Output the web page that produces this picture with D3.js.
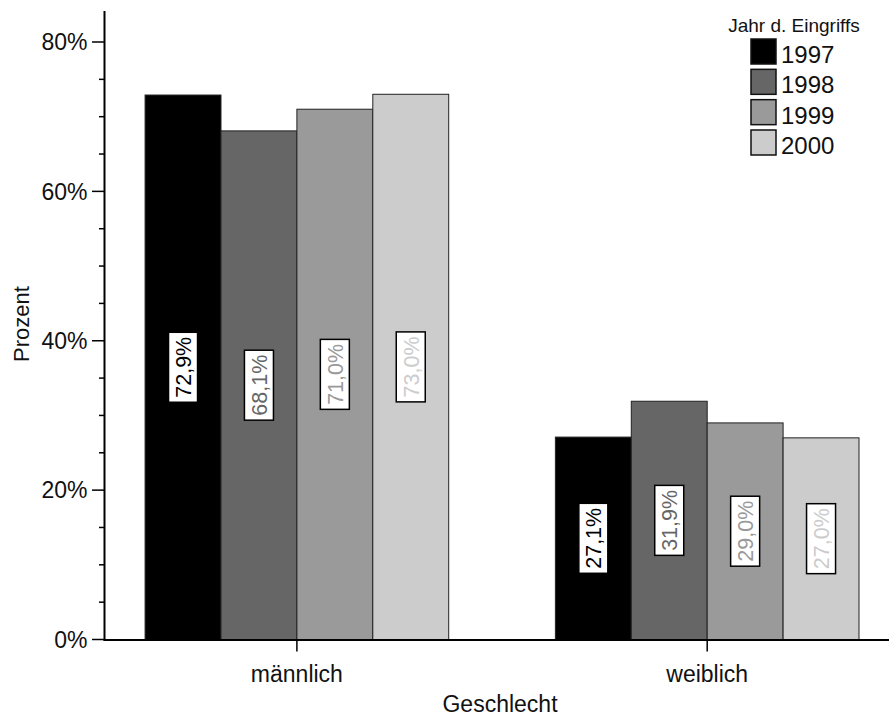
<!DOCTYPE html>
<html>
<head>
<meta charset="utf-8">
<script src="https://cdn.jsdelivr.net/npm/d3@7"></script>
<style>
  html, body { margin: 0; padding: 0; background: #fff; }
  svg { display: block; font-family: "Liberation Sans", Arial, Helvetica, sans-serif; }
</style>
</head>
<body>
<svg id="chart" width="889" height="717"></svg>
<script>
// ---- data ----
const categories = ["männlich", "weiblich"];
const years = ["1997", "1998", "1999", "2000"];
const values1997 = [72.9, 27.1];
const values1998 = [68.1, 31.9];
const values1999 = [71.0, 29.0];
const values2000 = [73.0, 27.0];
const yTicks = [0, 20, 40, 60, 80];
const yMinorTicks = [5, 10, 15, 25, 30, 35, 45, 50, 55, 65, 70, 75];
const colors = ["#000000", "#666666", "#9a9a9a", "#cccccc"];
const xTitle = "Geschlecht";
const yTitle = "Prozent";
const legendTitle = "Jahr d. Eingriffs";

const seriesValues = [values1997, values1998, values1999, values2000];
const rows = [];
categories.forEach((c, ci) => {
  years.forEach((yr, yi) => rows.push({ cat: c, year: yr, yi, value: seriesValues[yi][ci] }));
});

// ---- layout ----
const svg = d3.select("#chart");
const axisX = 104.5, axisBottom = 639.5, axisTopY = 11, plotRight = 889;
const FONT = 23;

const y = d3.scaleLinear().domain([0, 80]).range([axisBottom, 42]);
const x0 = d3.scaleBand().domain(categories).range([axisX, plotRight])
  .paddingInner(0.26).paddingOuter(0.086).align(0.575);
const x1 = d3.scaleBand().domain(years).range([0, x0.bandwidth()]).padding(0);
const color = d3.scaleOrdinal().domain(years).range(colors);
const fmt = v => d3.format(".1f")(v).replace(".", ",") + "%";

// ---- bars ----
const bars = svg.append("g");
bars.selectAll("rect").data(rows).join("rect")
  .attr("x", d => x0(d.cat) + x1(d.year))
  .attr("y", d => y(d.value))
  .attr("width", x1.bandwidth())
  .attr("height", d => y(0) - y(d.value))
  .attr("fill", d => color(d.year))
  .attr("stroke", "#222")
  .attr("stroke-width", 1);

// ---- bar labels ----
const labels = svg.append("g");
rows.forEach(d => {
  const cx = x0(d.cat) + x1(d.year) + x1.bandwidth() / 2;
  const cy = (y(d.value) + y(0)) / 2;
  const g = labels.append("g").attr("transform", `translate(${cx},${cy}) rotate(-90)`);
  const rect = g.append("rect").attr("fill", "#fff").attr("stroke", "#000").attr("stroke-width", 1.5);
  const t = g.append("text")
    .attr("text-anchor", "middle")
    .attr("dy", "0.36em")
    .attr("font-size", 21.5)
    .attr("fill", color(d.year))
    .text(fmt(d.value));
  const bb = t.node().getBBox();
  const w = bb.width + 9, h = 29;
  rect.attr("x", -w / 2).attr("y", -h / 2).attr("width", w).attr("height", h);
});

// ---- y axis ----
const yAxisG = svg.append("g");
yAxisG.append("line")
  .attr("x1", axisX).attr("x2", axisX)
  .attr("y1", axisTopY).attr("y2", axisBottom + 1)
  .attr("stroke", "#000").attr("stroke-width", 2);
yAxisG.selectAll("line.major").data(yTicks).join("line").attr("class", "major")
  .attr("x1", axisX - 12.5).attr("x2", axisX)
  .attr("y1", d => y(d)).attr("y2", d => y(d))
  .attr("stroke", "#000").attr("stroke-width", 1.5);
yAxisG.selectAll("line.minor").data(yMinorTicks).join("line").attr("class", "minor")
  .attr("x1", axisX - 5.5).attr("x2", axisX)
  .attr("y1", d => y(d)).attr("y2", d => y(d))
  .attr("stroke", "#000").attr("stroke-width", 1.5);
yAxisG.selectAll("text").data(yTicks).join("text")
  .attr("x", axisX - 17).attr("y", d => y(d))
  .attr("dy", "0.36em")
  .attr("text-anchor", "end")
  .attr("font-size", FONT)
  .attr("fill", "#111")
  .text(d => d + "%");

// ---- x axis ----
const xAxisG = svg.append("g");
xAxisG.append("line")
  .attr("x1", axisX - 1).attr("x2", plotRight)
  .attr("y1", axisBottom + 0.5).attr("y2", axisBottom + 0.5)
  .attr("stroke", "#000").attr("stroke-width", 2);
xAxisG.selectAll("line.tick").data(categories).join("line").attr("class", "tick")
  .attr("x1", d => x0(d) + x0.bandwidth() / 2).attr("x2", d => x0(d) + x0.bandwidth() / 2)
  .attr("y1", axisBottom).attr("y2", axisBottom + 12)
  .attr("stroke", "#000").attr("stroke-width", 1.5);
xAxisG.selectAll("text").data(categories).join("text")
  .attr("x", d => x0(d) + x0.bandwidth() / 2)
  .attr("y", 682)
  .attr("text-anchor", "middle")
  .attr("font-size", FONT)
  .attr("fill", "#111")
  .text(d => d);

// ---- axis titles ----
svg.append("text")
  .attr("x", 500).attr("y", 712)
  .attr("text-anchor", "middle")
  .attr("font-size", 23)
  .attr("fill", "#111")
  .text(xTitle);
svg.append("text")
  .attr("transform", "translate(29,324) rotate(-90)")
  .attr("text-anchor", "middle")
  .attr("font-size", 22)
  .attr("fill", "#111")
  .text(yTitle);

// ---- legend ----
const legend = svg.append("g");
legend.append("text")
  .attr("x", 794).attr("y", 32)
  .attr("text-anchor", "middle")
  .attr("font-size", 19)
  .attr("fill", "#111")
  .text(legendTitle);
const ly = d3.scalePoint().domain(years).range([39, 130]);
const li = legend.selectAll("g.item").data(years).join("g").attr("class", "item")
  .attr("transform", d => `translate(751,${ly(d)})`);
li.append("rect")
  .attr("width", 25).attr("height", 25)
  .attr("fill", d => color(d))
  .attr("stroke", "#111").attr("stroke-width", 1.5);
li.append("text")
  .attr("x", 30).attr("y", 24)
  .attr("font-size", 24)
  .attr("fill", "#111")
  .text(d => d);
</script>
</body>
</html>
